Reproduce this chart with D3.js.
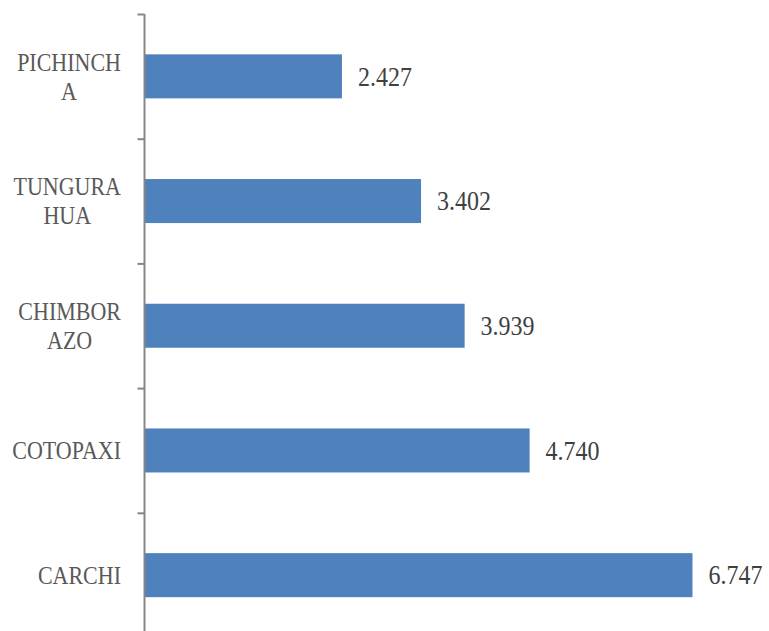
<!DOCTYPE html>
<html>
<head>
<meta charset="utf-8">
<script src="https://cdn.jsdelivr.net/npm/d3@7"></script>
<style>
  body { margin: 0; background: #fff; }
  svg { display: block; }
  text { font-family: "Liberation Serif", "DejaVu Serif", serif; }
</style>
</head>
<body>
<div id="bar"></div>
<script>
// data (Spanish thousands separator)
var provinces = ["PICHINCHA", "TUNGURAHUA", "CHIMBORAZO", "COTOPAXI", "CARCHI"]
var labelLines = [["PICHINCH", "A"], ["TUNGURA", "HUA"], ["CHIMBOR", "AZO"], ["COTOPAXI"], ["CARCHI"]]
var counts = [2427, 3402, 3939, 4740, 6747]

var width = 769, height = 631
var svg = d3.select("#bar").append("svg")
    .attr("width", width).attr("height", height)

var es = d3.formatLocale({decimal: ",", thousands: ".", grouping: [3], currency: ["", ""]})
var fmt = es.format(",d")

var top0 = 14, bottom0 = 637.5
var yBand = d3.scaleBand()
    .domain(provinces)
    .range([top0, bottom0])
    .paddingInner(0.647)
    .paddingOuter(0.3235)

// category boundaries for the tick marks
var yIdx = d3.scaleLinear().domain([0, provinces.length]).range([top0, bottom0])
var xScale = d3.scaleLinear().domain([0, 7000]).range([145, 713])

var bars = svg.append("g")
bars.selectAll("rect").data(counts).enter().append("rect")
    .attr("x", xScale(0))
    .attr("y", function (d, i) { return yBand(provinces[i]) })
    .attr("width", function (d) { return xScale(d) - xScale(0) })
    .attr("height", yBand.bandwidth())
    .attr("fill", "#4f81bd")

// value labels
var sy = 1.1
svg.append("g").selectAll("text").data(counts).enter().append("text")
    .attr("transform", function (d, i) {
        var cy = yBand(provinces[i]) + yBand.bandwidth() / 2
        return "translate(" + (xScale(d) + 16) + "," + cy + ") scale(1," + sy + ")"
    })
    .attr("dy", "0.35em")
    .attr("font-size", 24)
    .attr("fill", "#404040")
    .text(function (d) { return fmt(d) })

// y axis (ticks on category boundaries)
var yAxis = d3.axisLeft(yIdx)
    .tickValues(d3.range(provinces.length + 1))
    .tickSize(7)
    .tickFormat("")
var ax = svg.append("g")
    .attr("transform", "translate(144.5,0)")
    .call(yAxis)
ax.select(".domain").attr("stroke", "#868686").attr("stroke-width", 2).attr("d", "M0," + top0 + "V" + bottom0)
ax.selectAll(".tick line").attr("stroke", "#868686").attr("stroke-width", 2).attr("x1", 0).attr("x2", -7)

// category labels: block right-aligned at 121, lines centred in the block
var ls = 1.15, lh = 29 / ls, rightEdge = 121
var lab = svg.append("g").selectAll("text").data(labelLines).enter().append("text")
    .attr("text-anchor", "middle")
    .attr("font-size", 22)
    .attr("fill", "#595959")
lab.each(function (lines, i) {
    var t = d3.select(this)
    var start = -(lines.length - 1) * lh / 2
    var maxw = 0
    lines.forEach(function (s, k) {
        var sp = t.append("tspan").attr("x", 0).attr("y", start + k * lh).attr("dy", "0.35em").text(s)
        maxw = Math.max(maxw, sp.node().getComputedTextLength())
    })
    var cy = yBand(provinces[i]) + yBand.bandwidth() / 2
    t.attr("transform", "translate(" + (rightEdge - maxw / 2) + "," + cy + ") scale(1," + ls + ")")
})
</script>
</body>
</html>
